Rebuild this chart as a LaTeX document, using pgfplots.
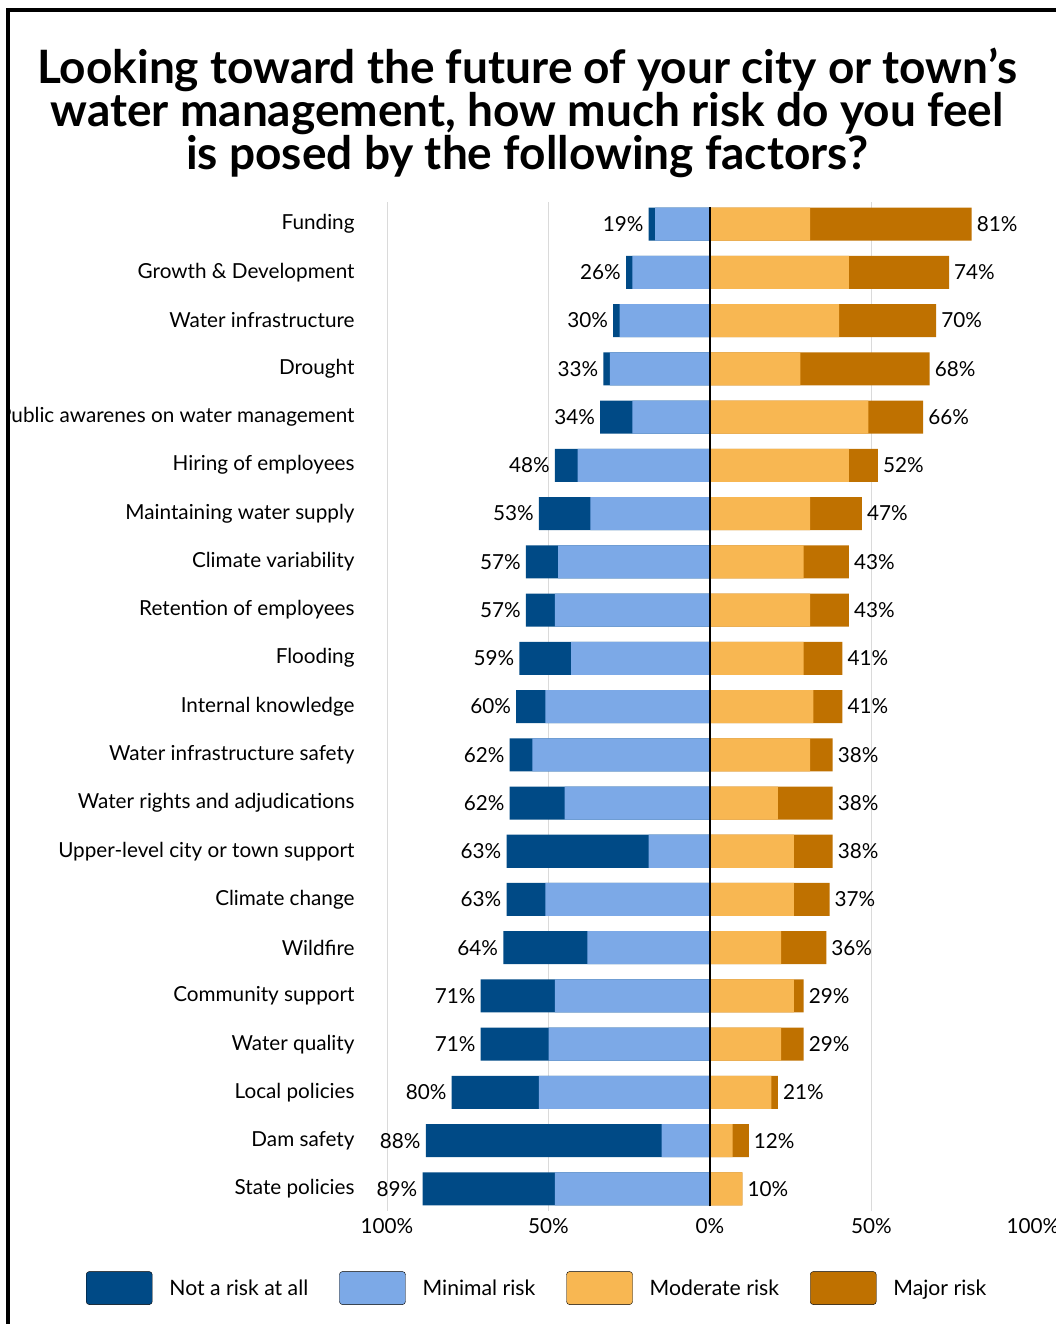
\documentclass[border=0pt]{standalone}
\usepackage{pgfplots}
\pgfplotsset{compat=1.18}
\usepackage{pgfplotstable}
\usepackage{fontspec}
\setmainfont{Lato}

\definecolor{cNot}{HTML}{004A86}
\definecolor{cMin}{HTML}{7CA9E7}
\definecolor{cMod}{HTML}{F8B752}
\definecolor{cMaj}{HTML}{BF7100}
\definecolor{gridgray}{HTML}{DADADA}

% y: 20 = Funding (top) ... 0 = State policies (bottom)
% not = Not a risk at all, min = Minimal risk, mod = Moderate risk, maj = Major risk
\pgfplotstableread{
y  not min mod maj
20 2   17  31  50
19 2   24  43  31
18 2   28  40  30
17 2   31  28  40
16 10  24  49  17
15 7   41  43  9
14 16  37  31  16
13 10  47  29  14
12 9   48  31  12
11 16  43  29  12
10 9   51  32  9
9  7   55  31  7
8  17  45  21  17
7  44  19  26  12
6  12  51  26  11
5  26  38  22  14
4  23  48  26  3
3  21  50  22  7
2  27  53  19  2
1  73  15  7   5
0  41  48  10  0
}\risk

\newcommand{\lab}{\fontsize{20.7}{24}\selectfont}
\newcommand{\leglab}{\fontsize{21.2}{24}\selectfont}

\begin{document}
\begin{tikzpicture}[x=1pt,y=1pt]
\useasboundingbox (0pt,0pt) rectangle (1056pt,-1324pt);
\fill[white] (0pt,0pt) rectangle (1056pt,-1324pt);

\node[font=\fontsize{46}{44}\selectfont\bfseries, anchor=base] at (527pt,-84pt) {Looking toward the future of your city or town’s};
\node[font=\fontsize{46}{44}\selectfont\bfseries, anchor=base] at (527pt,-127pt) {water management, how much risk do you feel};
\node[font=\fontsize{46}{44}\selectfont\bfseries, anchor=base] at (527pt,-170pt) {is posed by the following factors?};

\begin{scope}
\clip (10pt,0pt) rectangle (1056pt,-1324pt);
\begin{axis}[
  at={(387pt,-202.3pt)}, anchor=north west,
  scale only axis, width=646pt, height=1008.4pt,
  xmin=-100, xmax=100, ymin=-0.45, ymax=20.45,
  xbar, bar width=33pt, bar shift=0pt,
  /pgf/number format/assume math mode=true,
  axis line style={draw=none}, major tick style={draw=none},
  xtick={-100,-50,50}, xticklabels={100\%,50\%,50\%},
  extra x ticks={0,100}, extra x tick labels={0\%,100\%},
  extra x tick style={grid=none},
  xmajorgrids, grid style={gridgray, line width=1pt},
  xticklabel style={font=\lab, anchor=center, inner sep=0pt, yshift=-15.5pt},
  ytick={0,...,20},
  yticklabels={State policies, Dam safety, Local policies, Water quality, Community support, Wildfire, Climate change, Upper-level city or town support, Water rights and adjudications, Water infrastructure safety, Internal knowledge, Flooding, Retention of employees, Climate variability, Maintaining water supply, Hiring of employees, Public awarenes on water management, Drought, Water infrastructure, Growth \& Development, Funding},
  yticklabel style={font=\lab, anchor=east, inner sep=0pt, xshift=-28pt},
  legend columns=4,
  legend image code/.code={\fill[#1, rounded corners=3pt] (0pt,-16.5pt) rectangle (66pt,16.5pt);},
  legend cell align=left,
  legend style={draw=none, fill=none, at={(axis description cs:-0.4659,-0.0767)}, anchor=west, inner sep=0pt, outer sep=0pt,
    nodes={inner sep=0pt, font=\leglab},
    /tikz/every odd column/.append style={column sep=17pt},
    /tikz/every even column/.append style={column sep=31pt}},
  every node near coord/.append style={font=\lab, inner sep=5pt},
]
\addlegendimage{fill=cNot}\addlegendentry{Not a risk at all}
\addlegendimage{fill=cMin}\addlegendentry{Minimal risk}
\addlegendimage{fill=cMod}\addlegendentry{Moderate risk}
\addlegendimage{fill=cMaj}\addlegendentry{Major risk}

% left side: Not a risk (outer) then Minimal (inner)
\addplot[fill=cNot, draw=none, forget plot, point meta=x,
  nodes near coords={\pgfkeys{/pgf/fpu=true,/pgf/fpu/output format=fixed}\pgfmathparse{abs(\pgfplotspointmeta)}\pgfmathprintnumber[fixed,precision=0,assume math mode=true]{\pgfmathresult}\%},
  every node near coord/.append style={anchor=east}]
  table[x expr={-(\thisrow{not}+\thisrow{min})}, y=y]{\risk};
\addplot[fill=cMin, draw=none, forget plot]
  table[x expr={-\thisrow{min}}, y=y]{\risk};
% right side: Major (outer) then Moderate (inner)
\addplot[fill=cMaj, draw=none, forget plot, point meta=x,
  nodes near coords={\pgfmathprintnumber[fixed,precision=0,assume math mode=true]{\pgfplotspointmeta}\%},
  every node near coord/.append style={anchor=west}]
  table[x expr={\thisrow{mod}+\thisrow{maj}}, y=y]{\risk};
\addplot[fill=cMod, draw=none, forget plot]
  table[x expr={\thisrow{mod}}, y=y]{\risk};

\draw[black, line width=2pt] (axis cs:0,-0.36) -- (axis cs:0,20.36);
\end{axis}
\end{scope}

\draw[line width=4pt] (8pt,-1324pt) -- (8pt,-10pt) -- (1056pt,-10pt);
\end{tikzpicture}
\end{document}
